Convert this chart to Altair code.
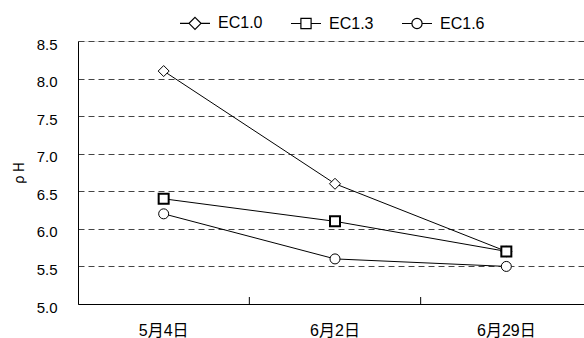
import altair as alt
import pandas as pd

# Sampling dates and pH readings for each EC level
dates = ["5月4日", "6月2日", "6月29日"]
series = ["EC1.0", "EC1.3", "EC1.6"]
ph_ec10 = [8.1, 6.6, 5.7]
ph_ec13 = [6.4, 6.1, 5.7]
ph_ec16 = [6.2, 5.6, 5.5]
y_ticks = [5.0, 5.5, 6.0, 6.5, 7.0, 7.5, 8.0, 8.5]

rows = []
for name, vals in zip(series, [ph_ec10, ph_ec13, ph_ec16]):
    for d, v in zip(dates, vals):
        rows.append({"date": d, "series": name, "ph": v})
df = pd.DataFrame(rows)
boundaries = pd.DataFrame({"date": dates[1:]})

FONT = "Liberation Sans, Arial, Noto Sans CJK JP"
W, H = 506, 263

# legend glyphs: a short line through each marker
legend_paths = [
    "M-2.5,0L-1,0M1,0L2.5,0M0,-1L1,0L0,1L-1,0Z",
    "M-2.5,0L-0.85,0M0.85,0L2.5,0M-0.85,-0.85L0.85,-0.85L0.85,0.85L-0.85,0.85Z",
    "M-2.5,0L-0.85,0M0.85,0L2.5,0M-0.85,0A0.85,0.85,0,1,1,0.85,0A0.85,0.85,0,1,1,-0.85,0Z",
]
marker_style = {
    "EC1.0": dict(shape="diamond", size=121, strokeWidth=1),
    "EC1.3": dict(shape="square", size=100, strokeWidth=2),
    "EC1.6": dict(shape="circle", size=100, strokeWidth=1),
}

x_enc = alt.X(
    "date:N",
    sort=dates,
    scale=alt.Scale(domain=dates, range=[0, 514], paddingInner=0, paddingOuter=0),
    axis=alt.Axis(
        title=None, ticks=False, labelAngle=0, labelPadding=18,
        labelFontSize=16, labelFont=FONT, labelColor="black",
        domainColor="black", domainWidth=1, grid=False,
    ),
)
y_scale = alt.Scale(domain=[5.0, 8.5], nice=False, zero=False)
y_enc = alt.Y(
    "ph:Q",
    scale=y_scale,
    axis=alt.Axis(
        title="ρ H", values=y_ticks, format=".1f", ticks=False,
        labelPadding=21, labelOffset=3, labelFontSize=15, labelFont=FONT,
        labelColor="black", titleFont="Noto Sans CJK JP", titleFontSize=14,
        titleFontWeight="normal", titleColor="black", titlePadding=10,
        domainColor="black", domainWidth=1,
        grid=True, gridColor="#444444", gridDash=[6, 4], gridWidth=1,
    ),
)

base = alt.Chart(df)

lines = base.mark_line(color="black", strokeWidth=1).encode(
    x=x_enc, y=y_enc, detail="series:N"
)

# one marker layer per series so each keeps its own glyph and stroke
point_layers = [
    base.transform_filter(alt.datum.series == name)
    .mark_point(filled=True, fill="white", stroke="black", opacity=1, **marker_style[name])
    .encode(x=x_enc, y=y_enc)
    for name in series
]

# carries the legend only: its rows are filtered away
legend_layer = base.transform_filter("false").mark_point(
    color="black", fill="white", strokeWidth=1.2, opacity=1
).encode(
    x=x_enc,
    y=y_enc,
    shape=alt.Shape(
        "series:N", sort=series,
        scale=alt.Scale(domain=series, range=legend_paths),
        legend=alt.Legend(
            title=None, orient="none", direction="horizontal",
            legendX=109, legendY=-26,
            symbolSize=144, symbolStrokeWidth=1.2,
            labelFont=FONT, labelFontSize=16, labelColor="black",
            labelOffset=15, columnPadding=25,
        ),
    ),
)

ticks = alt.Chart(boundaries).mark_rule(color="black", strokeWidth=1).encode(
    x=alt.X("date:N", sort=dates, bandPosition=0),
    y=alt.value(H - 7),
    y2=alt.value(H),
)

chart = (
    alt.layer(lines, ticks, *point_layers, legend_layer)
    .properties(
        width=W, height=H,
        autosize=alt.AutoSizeParams(type="none"),
        padding={"left": 78, "top": 41, "right": 0, "bottom": 34},
    )
    .configure_view(stroke=None)
    .configure(background="white")
)

chart.save("out.html", embed_options={"renderer": "svg", "actions": False})
